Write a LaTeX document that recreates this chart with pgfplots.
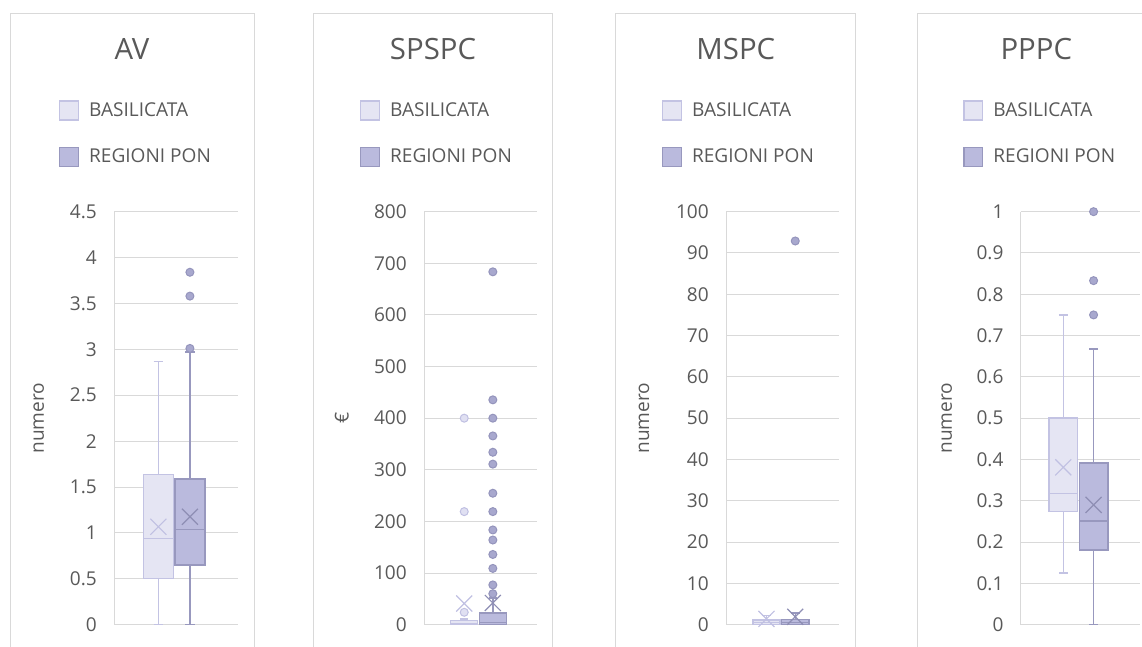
\documentclass[border=0pt]{standalone}
\usepackage{fontspec}
\setmainfont{Open Sans}
\usepackage{pgfplots}
\pgfplotsset{compat=1.18}
\usepgfplotslibrary{statistics}
\definecolor{txt}{HTML}{595959}
\definecolor{gridc}{HTML}{D9D9D9}
\definecolor{basF}{HTML}{E5E5F3}
\definecolor{basE}{HTML}{C3C3E3}
\definecolor{ponF}{HTML}{BABADD}
\definecolor{ponE}{HTML}{9898BE}
\definecolor{ponO}{HTML}{A8A8CE}
\definecolor{ponOE}{HTML}{9494BC}
\definecolor{basO}{HTML}{E0E0F2}
\definecolor{basX}{HTML}{C0C0E2}
\definecolor{ponX}{HTML}{8E8EB4}
\pgfplotsset{
  sqlegend/.style={legend image code/.code={\draw[##1] (0.5pt,-7pt) rectangle (14.5pt,7pt);}},
  panel/.style={
    scale only axis, height=309.75pt, xmin=0, xmax=1, ymin=0,
    clip=false,
    axis y line*=left, axis x line*=bottom,
    axis line style={-, draw=gridc, line width=0.75pt},
    ymajorgrids, grid style={draw=gridc, line width=0.75pt},
    xtick=\empty, major tick length=0pt,
    yticklabel style={anchor=east, inner sep=0pt, xshift=-12.75pt, font=\fontsize{14.3}{16}\selectfont, text=txt},
    /pgf/number format/fixed, /pgf/number format/assume math mode=true,
    every axis y label/.style={rotate=90, anchor=center, font=\fontsize{14.3}{16}\selectfont, text=txt},
    legend style={draw=none, fill=none, inner sep=0pt, outer sep=0pt, anchor=north west,
      font=\fontsize{14.3}{16}\selectfont, text=txt, row sep=19pt,
      /tikz/every odd column/.append style={column sep=5.5pt}},
    legend cell align=left,
    boxplot/draw direction=y,
    boxplot/box extend=0.24,
    boxplot/whisker extend=0.075,
    boxplot/every whisker/.style={line width=1.1pt},
    boxplot/every box/.style={line width=1.1pt},
    boxplot/every median/.style={line width=1.1pt},
  },
  bas/.style={draw=basE, fill=basF, line width=1.1pt},
  pon/.style={draw=ponE, fill=ponF, line width=1.1pt},
  outB/.style={only marks, mark=*, mark size=3pt, mark options={fill=basO, draw=basX, line width=0.75pt}},
  outP/.style={only marks, mark=*, mark size=3pt, mark options={fill=ponO, draw=ponOE, line width=0.75pt}},
  meanB/.style={only marks, mark=x, mark size=8.5pt, mark options={draw=basX, line width=0.9pt}},
  meanP/.style={only marks, mark=x, mark size=8.5pt, mark options={draw=ponX, line width=0.9pt}},
}
\newcommand{\legendpair}{%
  \addlegendimage{sqlegend, bas}\addlegendentry{BASILICATA}
  \addlegendimage{sqlegend, pon}\addlegendentry{REGIONI PON}}
\begin{document}
\begin{tikzpicture}
\useasboundingbox (0,0) rectangle (856.5pt,-484.5pt);
% panel frames
\draw[gridc, line width=0.75pt] (8pt,-10pt) rectangle (190.7pt,-520pt);
\draw[gridc, line width=0.75pt] (235pt,-10pt) rectangle (414.2pt,-520pt);
\draw[gridc, line width=0.75pt] (461.5pt,-10pt) rectangle (641.5pt,-520pt);
\draw[gridc, line width=0.75pt] (688.3pt,-10pt) rectangle (866pt,-520pt);
% titles
\node[anchor=base, inner sep=0pt, font=\fontsize{22}{26}\selectfont, text=txt] at (99pt,-44.25pt) {AV};
\node[anchor=base, inner sep=0pt, font=\fontsize{22}{26}\selectfont, text=txt] at (324.75pt,-44.25pt) {SPSPC};
\node[anchor=base, inner sep=0pt, font=\fontsize{22}{26}\selectfont, text=txt] at (551.85pt,-44.25pt) {MSPC};
\node[anchor=base, inner sep=0pt, font=\fontsize{22}{26}\selectfont, text=txt] at (777.2pt,-44.25pt) {PPPC};

% ---------- AV ----------
\begin{axis}[panel, at={(85.5pt,-468.5pt)}, anchor=south west, width=93.2pt,
  ymax=4.5, ytick={0,0.5,1,1.5,2,2.5,3,3.5,4,4.5},
  ylabel={numero}, ylabel style={at={(axis description cs:-0.605,0.5)}},
  legend style={at={(axis description cs:-0.4425,1.2705)}}]
\legendpair
\addplot[bas, boxplot prepared={draw position=0.357,
  lower whisker=0, lower quartile=0.505, median=0.941, upper quartile=1.638, upper whisker=2.869}] coordinates {};
\addplot[pon, boxplot prepared={draw position=0.611,
  lower whisker=0, lower quartile=0.65, median=1.039, upper quartile=1.587, upper whisker=2.97}] coordinates {};
\addplot[meanB] coordinates {(0.357,1.067)};
\addplot[meanP] coordinates {(0.611,1.176)};
\addplot[outP] coordinates {(0.611,3.01) (0.611,3.58) (0.611,3.84)};
\end{axis}

% ---------- SPSPC ----------
\begin{axis}[panel, at={(318pt,-468.5pt)}, anchor=south west, width=84.5pt,
  ymax=800, ytick={0,100,200,300,400,500,600,700,800},
  ylabel={€}, ylabel style={at={(axis description cs:-0.730,0.5)}},
  legend style={at={(axis description cs:-0.568,1.2705)}}]
\legendpair
\addplot[bas, boxplot prepared={draw position=0.357,
  lower whisker=0, lower quartile=0, median=1, upper quartile=8, upper whisker=11}] coordinates {};
\addplot[pon, boxplot prepared={draw position=0.611,
  lower whisker=0, lower quartile=0, median=4, upper quartile=23, upper whisker=52}] coordinates {};
\addplot[meanB] coordinates {(0.357,41)};
\addplot[meanP] coordinates {(0.611,42)};
\addplot[outB] coordinates {(0.357,24) (0.357,219) (0.357,400)};
\addplot[outP] coordinates {(0.611,60) (0.611,77) (0.611,109) (0.611,136) (0.611,164) (0.611,183.5) (0.611,219) (0.611,254.6) (0.611,311) (0.611,334) (0.611,365.6) (0.611,400) (0.611,435.5) (0.611,683.5)};
\end{axis}

% ---------- MSPC ----------
\begin{axis}[panel, at={(544.5pt,-468.5pt)}, anchor=south west, width=85pt,
  ymax=100, ytick={0,10,20,30,40,50,60,70,80,90,100},
  ylabel={numero}, ylabel style={at={(axis description cs:-0.724,0.5)}},
  legend style={at={(axis description cs:-0.565,1.2705)}}]
\legendpair
\addplot[bas, boxplot prepared={draw position=0.357,
  lower whisker=0, lower quartile=0, median=0.5, upper quartile=1.1, upper whisker=2.2}] coordinates {};
\addplot[pon, boxplot prepared={draw position=0.611,
  lower whisker=0, lower quartile=0, median=0.5, upper quartile=1.2, upper whisker=2.8}] coordinates {};
\addplot[meanB] coordinates {(0.357,1.4)};
\addplot[meanP] coordinates {(0.611,1.9)};
\addplot[outP] coordinates {(0.611,92.9)};
\end{axis}

% ---------- PPPC ----------
\begin{axis}[panel, at={(765.5pt,-468.5pt)}, anchor=south west, width=89.5pt,
  ymax=1, ytick={0,0.1,0.2,0.3,0.4,0.5,0.6,0.7,0.8,0.9,1},
  ylabel={numero}, ylabel style={at={(axis description cs:-0.620,0.5)}},
  legend style={at={(axis description cs:-0.481,1.2705)}}]
\legendpair
\addplot[bas, boxplot prepared={draw position=0.357,
  lower whisker=0.125, lower quartile=0.274, median=0.318, upper quartile=0.5, upper whisker=0.75}] coordinates {};
\addplot[pon, boxplot prepared={draw position=0.611,
  lower whisker=0, lower quartile=0.181, median=0.251, upper quartile=0.392, upper whisker=0.667}] coordinates {};
\addplot[meanB] coordinates {(0.357,0.381)};
\addplot[meanP] coordinates {(0.611,0.29)};
\addplot[outP] coordinates {(0.611,0.75) (0.611,0.833) (0.611,1.0)};
\end{axis}
\end{tikzpicture}
\end{document}
